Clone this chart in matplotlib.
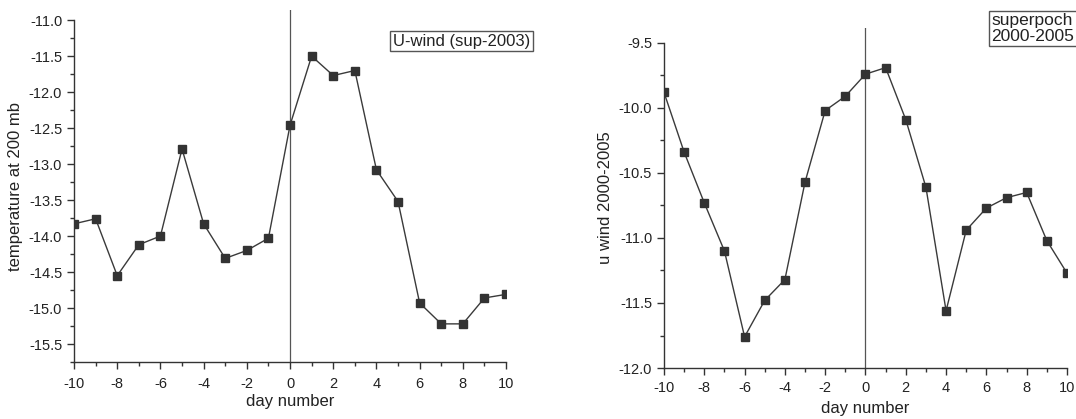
import matplotlib
matplotlib.use('Agg')
import matplotlib.pyplot as plt
from matplotlib.ticker import MultipleLocator, FormatStrFormatter

plt.rcParams['font.family'] = ['Liberation Sans', 'DejaVu Sans']
plt.rcParams['axes.unicode_minus'] = False

# 데이터
days = list(range(-10, 11))
temp_200mb = [-13.83, -13.76, -14.55, -14.12, -14.00, -12.79, -13.83, -14.31, -14.20, -14.03,
              -12.46, -11.50, -11.77, -11.70, -13.08, -13.52, -14.93, -15.22, -15.22, -14.86, -14.81]
uwind_2000_2005 = [-9.88, -10.34, -10.73, -11.10, -11.76, -11.48, -11.32, -10.57, -10.02, -9.91,
                   -9.74, -9.69, -10.09, -10.61, -11.56, -10.94, -10.77, -10.69, -10.65, -11.02, -11.27]
left_yticks = [-11.0, -11.5, -12.0, -12.5, -13.0, -13.5, -14.0, -14.5, -15.0, -15.5]
right_yticks = [-9.5, -10.0, -10.5, -11.0, -11.5, -12.0]

line_color = '#3a3a3a'
fig = plt.figure(figsize=(10.76, 4.19), dpi=100)
ax1 = fig.add_axes([0.0688, 0.136, 0.4015, 0.840])
ax2 = fig.add_axes([0.6171, 0.1217, 0.3745, 0.8115])


def style_axes(ax, ylim, ytop, ylabel, xpad, lpad):
    ax.set_xlim(-10, 10)
    ax.set_ylim(ylim[0], ylim[1])
    ax.axvline(0, color='#555555', lw=0.9, zorder=1)
    for s in ['top', 'right']:
        ax.spines[s].set_visible(False)
    ax.spines['left'].set_bounds(ylim[0], ytop)
    for s in ['left', 'bottom']:
        ax.spines[s].set_color('#333333')
        ax.spines[s].set_linewidth(1.0)
    ax.xaxis.set_major_locator(MultipleLocator(2))
    ax.xaxis.set_minor_locator(MultipleLocator(1))
    ax.yaxis.set_minor_locator(MultipleLocator(0.25))
    ax.tick_params(which='major', direction='out', length=5, width=1, color='#333333',
                   labelsize=10.5, labelcolor='#222222')
    ax.tick_params(which='minor', direction='out', length=3, width=1, color='#333333')
    ax.tick_params(axis='x', pad=xpad)
    ax.set_xlabel('day number', fontsize=12, color='#222222', labelpad=lpad)
    ax.set_ylabel(ylabel, fontsize=12, color='#222222')
    ax.yaxis.set_major_formatter(FormatStrFormatter('%.1f'))


# 왼쪽 그래프
ax1.plot(days, temp_200mb, color=line_color, lw=1.0, marker='s', ms=6,
         mfc='#333333', mec='#333333', zorder=3)
ax1.set_yticks(left_yticks)
style_axes(ax1, (-15.75, -10.86), -11.0, 'temperature at 200 mb', 6, 2)
fig.text(0.429, 0.902, 'U-wind (sup-2003)', fontsize=12, ha='center', va='center',
         color='#222222',
         bbox=dict(boxstyle='square,pad=0.15', fc='white', ec='#555555', lw=1.0))

# 오른쪽 그래프
ax2.plot(days, uwind_2000_2005, color=line_color, lw=1.0, marker='s', ms=6,
         mfc='#333333', mec='#333333', zorder=3)
ax2.set_yticks(right_yticks)
style_axes(ax2, (-12.0, -9.385), -9.5, 'u wind 2000-2005', 4, 5)
fig.text(0.9985, 0.932, 'superpoch\n2000-2005', fontsize=12.5, ha='right', va='center',
         multialignment='left', color='#222222', linespacing=1.05,
         bbox=dict(boxstyle='square,pad=0.15', fc='white', ec='#555555', lw=1.0))

plt.savefig('out.png', dpi=100)
